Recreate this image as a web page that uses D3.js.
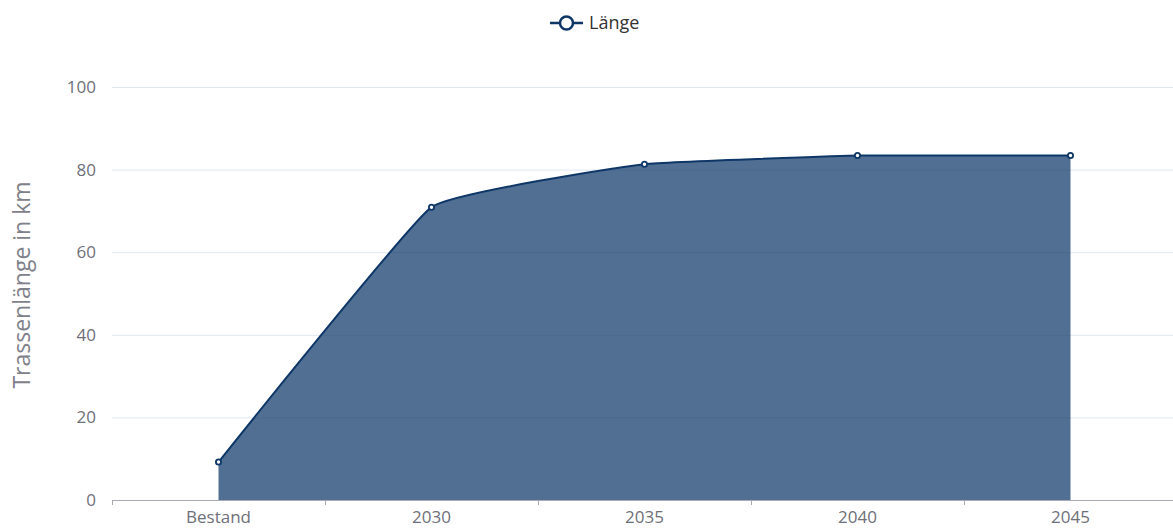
<!DOCTYPE html>
<html><head><meta charset="utf-8">
<script src="https://cdn.jsdelivr.net/npm/d3@7"></script>
<style>body{margin:0;background:#fff}svg{display:block;font-family:"Open Sans","Noto Sans",sans-serif}</style>
</head><body><svg id="c" width="1173" height="528"></svg>
<script>
const categories = ["Bestand","2030","2035","2040","2045"];
const values = [9.2, 70.9, 81.3, 83.4, 83.4];
const yTicks = [0,20,40,60,80,100];
const seriesName = "Länge";
const yTitle = "Trassenlänge in km";

const svg = d3.select("#c");
const L = 112, R = 1177, T = 87, B = 500;
const x = d3.scaleBand().domain(categories).range([L, R]);
const y = d3.scaleLinear().domain([0,100]).range([B, T]);
const cx = d => x(d) + x.bandwidth()/2;
const navy = "#0e3768";
const grey = "#6e7079";

// grid
svg.append("g").selectAll("line").data(yTicks.filter(t=>t>0)).join("line")
  .attr("x1", L).attr("x2", R).attr("y1", d=>y(d)+0.5).attr("y2", d=>y(d)+0.5)
  .attr("stroke", "#e0e6f1").attr("stroke-width", 1);

// y labels
svg.append("g").selectAll("text").data(yTicks).join("text")
  .attr("x", 96).attr("y", d=>y(d)).attr("dy","0.35em").attr("text-anchor","end")
  .attr("fill", grey).attr("font-size", 17).text(d=>d);

// y title
svg.append("text").attr("transform", `translate(30,285) rotate(-90)`)
  .attr("text-anchor","middle").attr("fill","#7f818a").attr("font-size",23).text(yTitle);

const pts = categories.map((c,i)=>[cx(c), y(values[i])]);

// lightly smoothed path (small tangents, clamped so no overshoot)
function smoothPath(p, s, closeToY) {
  const cps = p.map((pt,i)=>{
    const a = p[Math.max(0,i-1)], b = p[Math.min(p.length-1,i+1)];
    let vx = (b[0]-a[0])*s, vy = (b[1]-a[1])*s;
    if (i===0 || i===p.length-1) { vx = 0; vy = 0; }
    if (i>0 && i<p.length-1) {
      const lo = Math.min(a[1],b[1]), hi = Math.max(a[1],b[1]);
      if (pt[1]+vy<lo || pt[1]+vy>hi || pt[1]-vy<lo || pt[1]-vy>hi) {
        const lim = Math.min(Math.abs(pt[1]-lo), Math.abs(hi-pt[1]));
        if (Math.abs(vy)>0) { const k = lim/Math.abs(vy); vx*=k; vy*=k; }
      }
    }
    return [vx, vy];
  });
  let d = `M${p[0][0]},${p[0][1]}`;
  for (let i=0;i<p.length-1;i++){
    const c1 = [p[i][0]+cps[i][0], p[i][1]+cps[i][1]];
    const c2 = [p[i+1][0]-cps[i+1][0], p[i+1][1]-cps[i+1][1]];
    d += `C${c1[0]},${c1[1]} ${c2[0]},${c2[1]} ${p[i+1][0]},${p[i+1][1]}`;
  }
  if (closeToY !== undefined) {
    d += `L${p[p.length-1][0]},${closeToY}L${p[0][0]},${closeToY}Z`;
  }
  return d;
}
const sm = 0.05;
svg.append("path").attr("d", smoothPath(pts, sm, y(0))).attr("fill", navy).attr("fill-opacity", 0.72);
svg.append("path").attr("d", smoothPath(pts, sm)).attr("fill","none").attr("stroke", navy).attr("stroke-width", 2);

// x axis
svg.append("line").attr("x1", L).attr("x2", R).attr("y1", B+0.5).attr("y2", B+0.5).attr("stroke","#a8abb3").attr("stroke-width",1);
const bounds = categories.map(c=>x(c)).concat([R]);
svg.append("g").selectAll("line").data(bounds).join("line")
  .attr("x1", d=>Math.round(d)+0.5).attr("x2", d=>Math.round(d)+0.5).attr("y1", B).attr("y2", B+5)
  .attr("stroke","#a8abb3");
svg.append("g").selectAll("text").data(categories).join("text")
  .attr("x", d=>cx(d)).attr("y", B+23).attr("text-anchor","middle")
  .attr("fill", grey).attr("font-size", 17).text(d=>d);

// points
svg.append("g").selectAll("circle").data(pts).join("circle")
  .attr("cx", d=>d[0]).attr("cy", d=>d[1]).attr("r", 2.6)
  .attr("fill","#fff").attr("stroke", navy).attr("stroke-width", 1.8);

// legend
const lg = svg.append("g");
lg.append("line").attr("x1", 550).attr("x2", 583).attr("y1", 23).attr("y2", 23).attr("stroke", navy).attr("stroke-width", 2.5);
lg.append("circle").attr("cx", 566.5).attr("cy", 23).attr("r", 6.5).attr("fill","#fff").attr("stroke", navy).attr("stroke-width", 2.5);
lg.append("text").attr("x", 589).attr("y", 23).attr("dy","0.35em").attr("fill","#333").attr("font-size",18).text(seriesName);
</script></body></html>
